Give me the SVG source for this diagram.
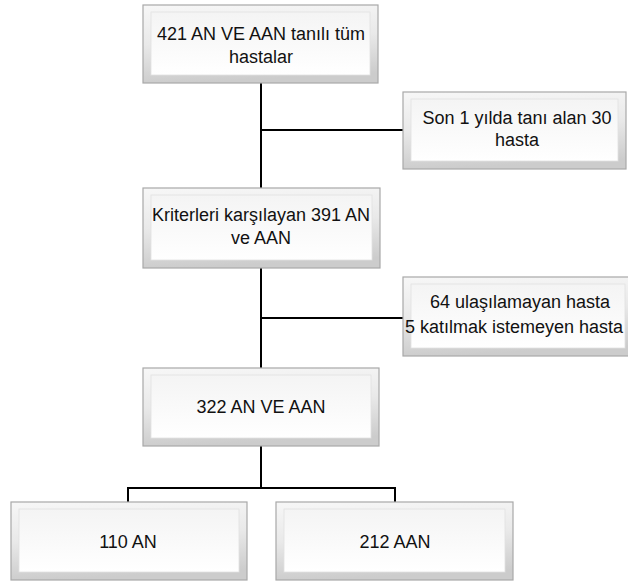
<svg xmlns="http://www.w3.org/2000/svg" width="628" height="581" viewBox="0 0 628 581">
<defs>
<linearGradient id="bev" x1="0" y1="0" x2="0.15" y2="1">
<stop offset="0" stop-color="#f7f7f7"/>
<stop offset="0.5" stop-color="#e9e9e9"/>
<stop offset="1" stop-color="#cccccc"/>
</linearGradient>
<linearGradient id="face" x1="0" y1="0" x2="0" y2="1">
<stop offset="0" stop-color="#f4f4f4"/>
<stop offset="1" stop-color="#ffffff"/>
</linearGradient>
</defs>
<style>
.outer{fill:url(#bev);stroke:#a8a8a8;stroke-width:1.2}
.inner{fill:url(#face);stroke:#e2e2e2;stroke-width:0.8}
.t{font-family:"Liberation Sans",Arial,sans-serif;font-size:18px;fill:#111;text-anchor:middle}
.c{fill:none;stroke:#000;stroke-width:2}
</style>
<rect width="628" height="581" fill="#fff"/>
<g id="connectors">
<path class="c" d="M261 83V188M261 130H403M261 268V368M261 318H403M261 446V488M128 502V488H395V502"/>
</g>
<g id="n1">
<rect class="outer" x="143" y="5" width="235" height="78"/>
<rect class="inner" x="151" y="12" width="219" height="63"/>
<text class="t" x="261" y="40">421 AN VE AAN tanılı tüm</text>
<text class="t" x="261" y="63">hastalar</text>
</g>
<g id="n2">
<rect class="outer" x="403" y="92" width="223" height="77"/>
<rect class="inner" x="411" y="99" width="207" height="62"/>
<text class="t" x="517" y="124">Son 1 yılda tanı alan 30</text>
<text class="t" x="517" y="146">hasta</text>
</g>
<g id="n3">
<rect class="outer" x="143" y="188" width="237" height="80"/>
<rect class="inner" x="151" y="195" width="221" height="65"/>
<text class="t" x="261" y="221">Kriterleri karşılayan 391 AN</text>
<text class="t" x="261" y="244">ve AAN</text>
</g>
<g id="n4">
<rect class="outer" x="403" y="277" width="230" height="79"/>
<rect class="inner" x="411" y="284" width="214" height="64"/>
<text class="t" x="520" y="308">64 ulaşılamayan hasta</text>
<text class="t" x="405" y="333" style="text-anchor:start">5 katılmak istemeyen hasta</text>
</g>
<g id="n5">
<rect class="outer" x="143" y="368" width="236" height="78"/>
<rect class="inner" x="151" y="375" width="220" height="63"/>
<text class="t" x="261" y="413">322 AN VE AAN</text>
</g>
<g id="n6">
<rect class="outer" x="11" y="502" width="236" height="78"/>
<rect class="inner" x="19" y="509" width="220" height="63"/>
<text class="t" x="128" y="548">110 AN</text>
</g>
<g id="n7">
<rect class="outer" x="276" y="502" width="237" height="78"/>
<rect class="inner" x="284" y="509" width="221" height="63"/>
<text class="t" x="395" y="548">212 AAN</text>
</g>
</svg>
